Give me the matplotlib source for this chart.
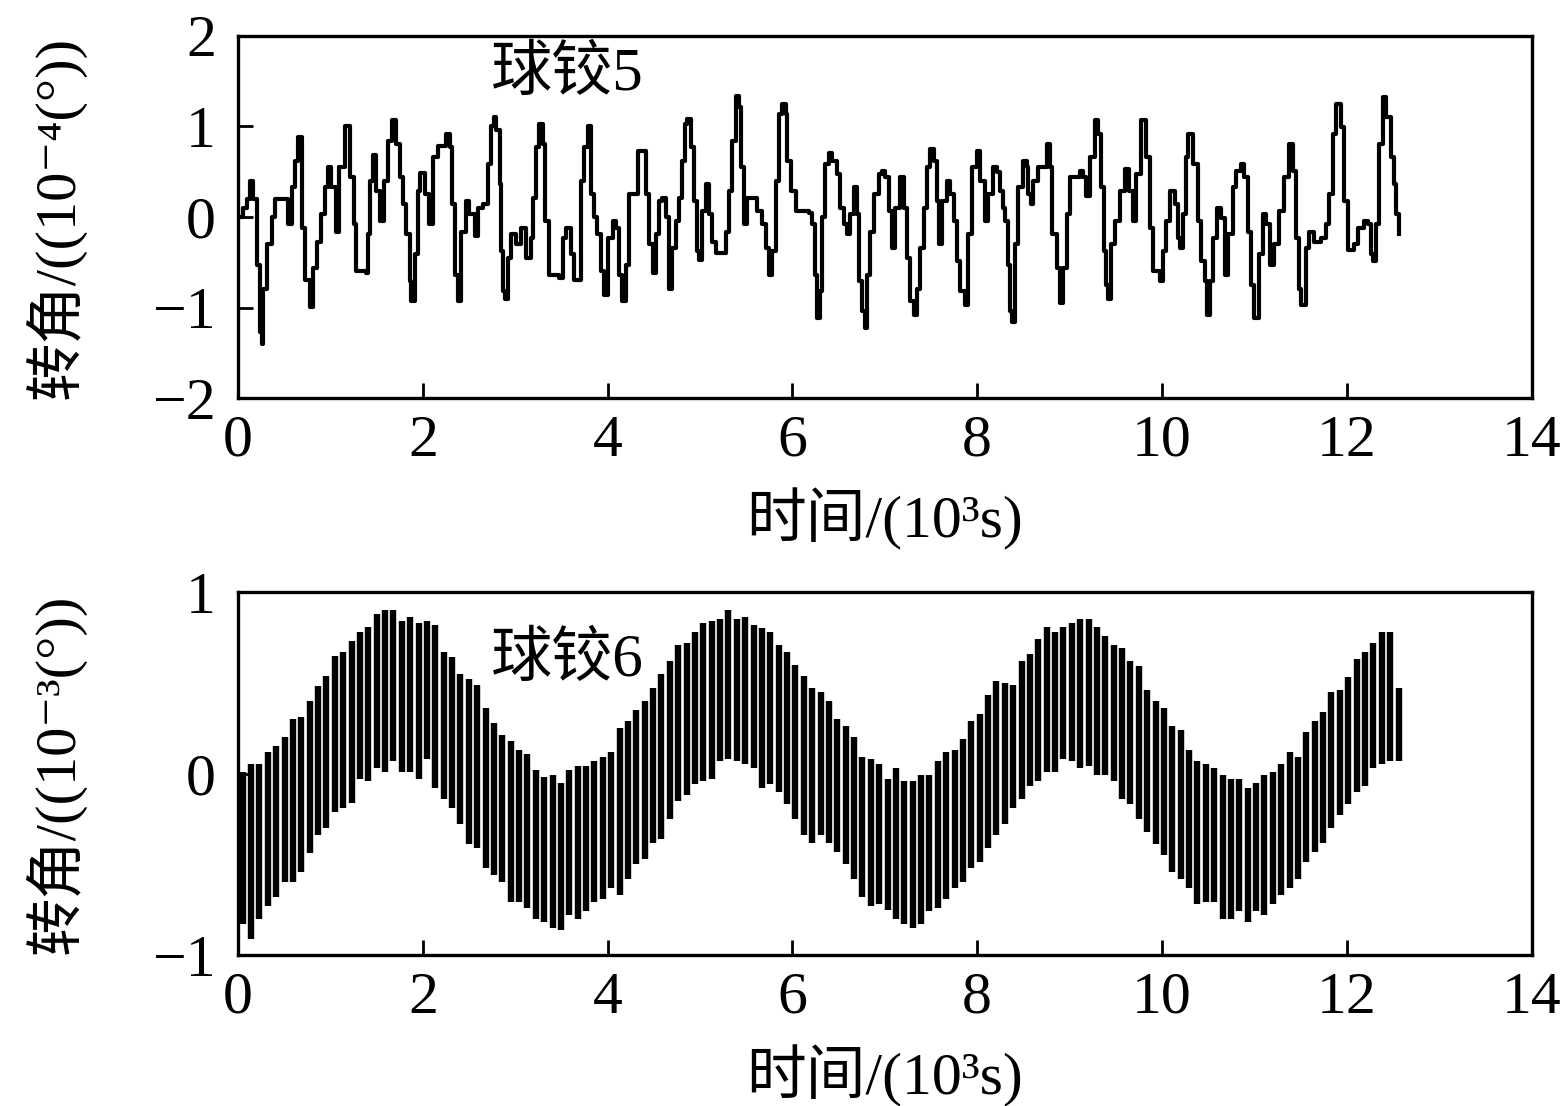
import numpy as np
import matplotlib
matplotlib.use("Agg")
import matplotlib.pyplot as plt

plt.rcParams['font.family'] = ['Liberation Serif', 'Noto Sans CJK SC', 'DejaVu Sans']
plt.rcParams['axes.unicode_minus'] = True

# ---- ball hinge 5 (10^-4 deg), turning points ----
t5 = [0.00, 0.058, 0.094, 0.13, 0.166, 0.20, 0.238, 0.256, 0.274, 0.31, 0.364, 0.40, 0.49, 0.544,
      0.58, 0.616, 0.652, 0.688, 0.724, 0.778, 0.814, 0.857, 0.893, 0.94, 0.975, 1.01, 1.058, 1.094,
      1.155, 1.21, 1.253, 1.28, 1.39, 1.407, 1.425, 1.46, 1.497, 1.533, 1.577, 1.623, 1.67, 1.713,
      1.757, 1.79, 1.82, 1.857, 1.875, 1.91, 1.948, 1.965, 2.02, 2.066, 2.11, 2.163, 2.253, 2.29,
      2.318, 2.343, 2.38, 2.415, 2.47, 2.505, 2.56, 2.595, 2.65, 2.703, 2.74, 2.765, 2.793, 2.83,
      2.847, 2.873, 2.894, 2.92, 2.955, 3.01, 3.063, 3.117, 3.17, 3.196, 3.225, 3.26, 3.297, 3.326,
      3.37, 3.477, 3.513, 3.55, 3.60, 3.64, 3.693, 3.71, 3.747, 3.783, 3.82, 3.855, 3.89, 3.927,
      3.963, 4.00, 4.053, 4.09, 4.125, 4.16,
      4.198, 4.234, 4.324, 4.414, 4.45, 4.486, 4.522, 4.558, 4.594, 4.63, 4.666, 4.702, 4.738, 4.774,
      4.803, 4.839, 4.864, 4.90, 4.936, 4.972, 4.99, 5.026, 5.062, 5.098, 5.134, 5.17, 5.26, 5.278,
      5.314, 5.35, 5.386, 5.422, 5.44, 5.476, 5.512, 5.584, 5.62, 5.674, 5.71, 5.746, 5.782, 5.818,
      5.854, 5.89, 5.926, 5.944, 5.98, 6.034, 6.178, 6.214, 6.25, 6.268, 6.304, 6.322, 6.358, 6.394,
      6.43, 6.484, 6.52, 6.556, 6.592, 6.628, 6.664, 6.70, 6.718, 6.754, 6.79, 6.808, 6.844, 6.88,
      6.934, 6.97, 7.006, 7.042, 7.078, 7.114, 7.168, 7.204, 7.24, 7.276, 7.312, 7.348, 7.384, 7.42,
      7.456, 7.492, 7.528, 7.564, 7.582, 7.618, 7.672, 7.708, 7.744, 7.78, 7.816, 7.87, 7.906, 7.942,
      7.996, 8.032, 8.086, 8.122, 8.176, 8.21,
      8.247, 8.283, 8.301, 8.33, 8.355, 8.373, 8.409, 8.445, 8.499, 8.535, 8.553, 8.582, 8.607, 8.661,
      8.751, 8.787, 8.812, 8.859, 8.895, 8.931, 8.967, 9.003, 9.075, 9.111, 9.147, 9.183, 9.219, 9.273,
      9.309, 9.345, 9.374, 9.399, 9.417, 9.453, 9.489, 9.543, 9.597, 9.64, 9.687, 9.723, 9.777, 9.831,
      9.867, 9.903, 9.975, 10.011, 10.047, 10.083, 10.137, 10.173, 10.198, 10.227, 10.263, 10.281,
      10.335, 10.389, 10.425, 10.461, 10.49, 10.515, 10.551, 10.598, 10.641, 10.677, 10.713, 10.767,
      10.803, 10.857, 10.893, 10.936, 10.965, 11.001, 11.055, 11.091, 11.127, 11.174, 11.217, 11.271,
      11.318, 11.379, 11.415, 11.451, 11.487, 11.505, 11.559, 11.595, 11.649, 11.721, 11.775, 11.811,
      11.847, 11.883, 11.937, 11.973, 12.009, 12.045, 12.081, 12.117, 12.189, 12.225, 12.261, 12.279,
      12.315, 12.351, 12.387, 12.423, 12.477, 12.513, 12.531, 12.567]
v5 = [0.0, 0.1, 0.2, 0.4, 0.2, -0.53, -1.27, -1.4, -0.8, -0.3, 0.0, 0.2, 0.2, -0.08,
      0.33, 0.62, 0.88, -0.12, -0.7, -0.99, -0.56, -0.27, 0.03, 0.33, 0.55, 0.33, -0.17, 0.55,
      1.0, 0.44, -0.08, -0.6, -0.62, -0.19, 0.4, 0.68, 0.29, -0.04, 0.4, 0.84, 1.07, 0.81,
      0.44, 0.14, -0.19, -0.71, -0.93, -0.41, 0.29, 0.49, 0.25, -0.08, 0.66, 0.79, 0.92, 0.77,
      0.14, -0.64, -0.93, -0.16, 0.18, 0.03, -0.21, 0.1, 0.14, 0.59, 1.0, 1.1, 0.96, 0.36,
      -0.38, -0.82, -0.9, -0.45, -0.19, -0.3, -0.12, -0.45, -0.23, 0.21, 0.77, 1.03, 0.81, -0.04,
      -0.64, -0.67, -0.23, -0.12, -0.41, -0.69, -0.69, 0.4, 0.77, 1.0, 0.25, 0.0, -0.19, -0.6,
      -0.86, -0.23, -0.04, -0.12, -0.64, -0.93,
      -0.53, 0.25, 0.73, 0.25, -0.3, -0.62, -0.19, 0.18, 0.21, 0.0, -0.79, -0.34, -0.04, 0.21,
      0.62, 1.03, 1.08, 0.77, 0.18, -0.38, -0.47, 0.07, 0.36, 0.03, -0.27, -0.4, -0.4, -0.16,
      0.29, 0.84, 1.34, 1.21, 0.55, -0.08, 0.21, 0.21, 0.07, -0.08, -0.34, -0.64, -0.38, 0.4,
      1.14, 1.25, 1.14, 0.62, 0.29, 0.07, 0.05, -0.08, -0.64, -1.12, -0.82, 0.0, 0.59, 0.71,
      0.62, 0.47, 0.1, -0.08, -0.19, 0.03, 0.33, 0.03, -0.71, -1.04, -1.23, -0.64, -0.16, 0.25,
      0.47, 0.51, 0.44, 0.07, -0.34, 0.1, 0.44, 0.1, -0.45, -0.93, -1.08, -0.79, -0.34, 0.1,
      0.55, 0.75, 0.62, 0.18, -0.3, 0.18, 0.4, 0.25, -0.04, -0.49, -0.82, -0.97, -0.19, 0.55,
      0.73, 0.4, -0.04, 0.25, 0.55, 0.5,
      0.29, 0.1, -0.04, -0.53, -1.04, -1.16, -0.3, 0.33, 0.62, 0.55, 0.25, 0.14, 0.4, 0.55,
      0.81, 0.55, -0.19, -0.56, -0.95, -0.56, 0.03, 0.44, 0.44, 0.51, 0.44, 0.23, 0.66, 1.07,
      0.92, 0.33, -0.38, -0.75, -0.9, -0.3, -0.04, 0.29, 0.53, 0.29, -0.04, 0.47, 1.07, 0.66,
      -0.12, -0.6, -0.71, -0.38, -0.04, 0.29, 0.14, -0.23, -0.34, 0.03, 0.66, 0.92,
      0.59, -0.04, -0.49, -0.71, -1.08, -0.71, -0.23, 0.1, -0.01, -0.64, -0.19, 0.33,
      0.51, 0.59, 0.44, -0.16, -0.75, -1.12, -0.41, 0.03, -0.08, -0.53, -0.3, 0.07,
      0.44, 0.81, 0.51, -0.23, -0.79, -0.97, -0.34, -0.16, -0.27, -0.23, -0.08, 0.25,
      0.92, 1.25, 0.99, 0.18, -0.36, -0.36, -0.3, -0.12, -0.04, -0.08, -0.41, -0.49,
      -0.08, 0.81, 1.33, 1.1, 0.66, 0.36, 0.03, -0.19]

# ---- ball hinge 6 (10^-3 deg): upper / lower end of each fast swing ----
hi6 = [0.01, 0.05, 0.05, 0.12, 0.15, 0.20, 0.30, 0.31, 0.40, 0.48, 0.54, 0.65, 0.67, 0.73, 0.78,
       0.81, 0.88, 0.90, 0.90, 0.84, 0.86, 0.83,
       0.84, 0.82, 0.67, 0.64, 0.55, 0.52, 0.49, 0.36, 0.28, 0.21, 0.18, 0.13, 0.11, 0.02, -0.02,
       -0.01, -0.05, 0.02, 0.04, 0.04, 0.07, 0.09, 0.12,
       0.25, 0.29, 0.35, 0.40, 0.47, 0.55, 0.62, 0.71, 0.72, 0.78, 0.83, 0.84, 0.85, 0.90, 0.85,
       0.86, 0.82, 0.80, 0.78, 0.71, 0.67, 0.60, 0.54, 0.47,
       0.45, 0.40, 0.30, 0.26, 0.20, 0.09, 0.08, 0.05, -0.03, 0.03, -0.04, -0.04, -0.01, -0.01,
       0.07, 0.12, 0.13, 0.19, 0.29, 0.33, 0.43, 0.51, 0.50,
       0.49, 0.62, 0.66, 0.74, 0.81, 0.78, 0.81, 0.83, 0.85, 0.85, 0.81, 0.76, 0.71, 0.69, 0.62,
       0.59, 0.46, 0.40, 0.36, 0.26, 0.24, 0.13, 0.07,
       0.05, 0.03, -0.01, -0.03, -0.03, -0.08, -0.05, -0.01, 0.01, 0.05, 0.12, 0.09, 0.23, 0.29,
       0.34, 0.45, 0.46, 0.53, 0.63, 0.67, 0.72, 0.78, 0.78, 0.47]
lo6 = [-0.83, -0.91, -0.80, -0.73, -0.68, -0.60, -0.60, -0.54, -0.44, -0.34, -0.30, -0.21, -0.19,
       -0.16, -0.03, -0.04, 0.03, 0.01, 0.07, 0.01, 0.01, -0.03,
       0.08, -0.08, -0.14, -0.19, -0.28, -0.39, -0.41, -0.52, -0.56, -0.60, -0.71, -0.71, -0.74,
       -0.80, -0.82, -0.85, -0.86, -0.78, -0.80, -0.76, -0.71, -0.69, -0.63,
       -0.67, -0.58, -0.50, -0.47, -0.38, -0.36, -0.25, -0.15, -0.12, -0.06, -0.04, -0.03, 0.07,
       0.08, 0.07, 0.05, 0.03, -0.08, -0.06, -0.10, -0.17, -0.25, -0.34, -0.38,
       -0.34, -0.38, -0.43, -0.50, -0.58, -0.68, -0.73, -0.72, -0.75, -0.80, -0.83, -0.85, -0.83,
       -0.76, -0.74, -0.69, -0.63, -0.60, -0.52, -0.49, -0.41, -0.34, -0.28,
       -0.19, -0.14, -0.07, -0.04, 0.01, 0.01, 0.08, 0.07, 0.03, 0.04, -0.01, -0.01, -0.04, -0.14,
       -0.17, -0.25, -0.32, -0.39, -0.45, -0.54, -0.58, -0.63, -0.72,
       -0.71, -0.71, -0.80, -0.80, -0.76, -0.82, -0.76, -0.78, -0.72, -0.67, -0.63, -0.58, -0.49,
       -0.43, -0.38, -0.30, -0.23, -0.17, -0.10, -0.07, 0.03, 0.05, 0.07, 0.07]
t6 = np.linspace(0.05, 12.56, len(hi6))

xticks = [0, 2, 4, 6, 8, 10, 12, 14]

fig = plt.figure(figsize=(15.66, 11.06), dpi=100)
ax1 = fig.add_axes([0.152, 0.640, 0.826, 0.3275])
ax2 = fig.add_axes([0.152, 0.1365, 0.826, 0.3282])

ax1.plot(t5, v5, color='black', linewidth=3.0, drawstyle='steps-post')
ax2.vlines(t6, lo6, hi6, color='black', linewidth=4.6)

ax1.set_ylim(-2, 2)
ax1.set_yticks([-2, -1, 0, 1, 2])
ax2.set_ylim(-1, 1)
ax2.set_yticks([-1, 0, 1])

ax1.text(2.74, 1.57, '球铰5', fontsize=44, va='center', ha='left')
ax2.text(2.74, 0.62, '球铰6', fontsize=44, va='center', ha='left')

ax1.set_ylabel('转角/((10⁻⁴(°))', fontsize=42, labelpad=48)
ax2.set_ylabel('转角/((10⁻³(°))', fontsize=42, labelpad=48)

for ax in (ax1, ax2):
    ax.set_xlim(0, 14)
    ax.set_xticks(xticks)
    ax.set_xlabel('时间/(10³s)', fontsize=43, labelpad=14)
    ax.tick_params(direction='in', length=11, width=2, labelsize=43, top=False, right=False)
    ax.tick_params(axis='x', pad=12)
    ax.tick_params(axis='y', pad=16)
    for s in ax.spines.values():
        s.set_linewidth(2.4)

fig.savefig('out.png', dpi=100)
